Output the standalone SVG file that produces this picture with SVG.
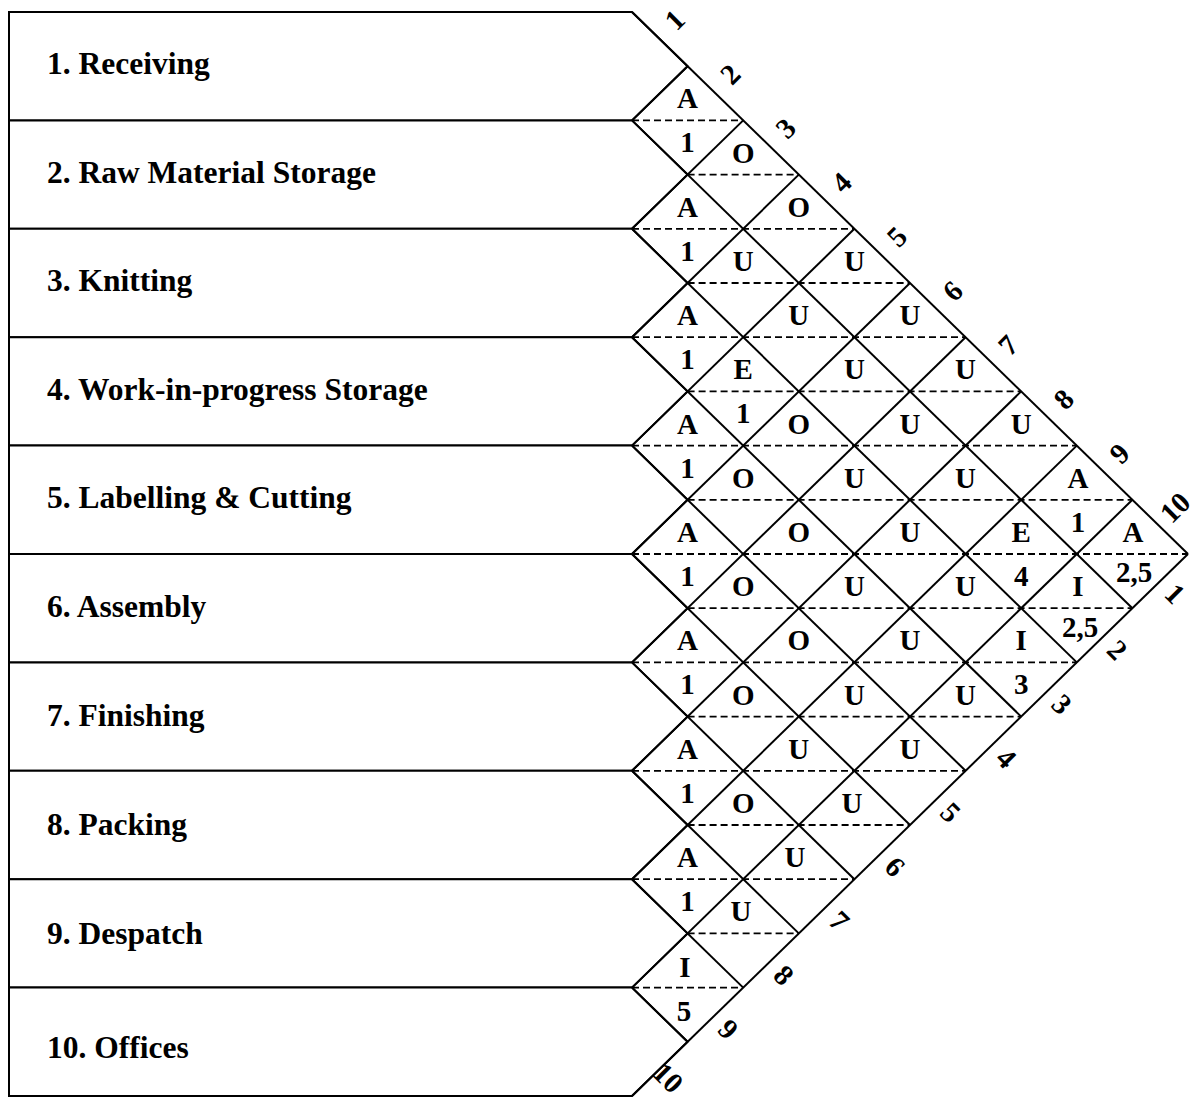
<svg xmlns="http://www.w3.org/2000/svg" width="1197" height="1097" viewBox="0 0 1197 1097">
  <style>
    .box { fill: #fff; stroke: #000; stroke-width: 2; stroke-linejoin: miter; }
    .grid { stroke: #000; stroke-width: 2; fill: none; }
    .dash { stroke: #000; stroke-width: 1.8; stroke-dasharray: 7 4; fill: none; }
    text { font-family: "Liberation Serif", "Times New Roman", serif; font-weight: bold; fill: #000; }
    .dept { font-size: 31.5px; }
    .cell { font-size: 29px; text-anchor: middle; }
    .idx { font-size: 29px; text-anchor: middle; }
  </style>

  <rect width="1197" height="1097" fill="#fff"/>

  <!-- Department boxes: rectangle with a chevron on the right side -->
  <g id="dept-1"><polygon class="box" points="9,12 632,12 687.6,66.2 632,120.4 9,120.4"/><text class="dept" x="47" y="74">1. Receiving</text></g>
  <g id="dept-2"><polygon class="box" points="9,120.4 632,120.4 687.6,174.6 632,228.8 9,228.8"/><text class="dept" x="47" y="183">2. Raw Material Storage</text></g>
  <g id="dept-3"><polygon class="box" points="9,228.8 632,228.8 687.6,283 632,337.2 9,337.2"/><text class="dept" x="47" y="291">3. Knitting</text></g>
  <g id="dept-4"><polygon class="box" points="9,337.2 632,337.2 687.6,391.4 632,445.6 9,445.6"/><text class="dept" x="47" y="400">4. Work-in-progress Storage</text></g>
  <g id="dept-5"><polygon class="box" points="9,445.6 632,445.6 687.6,499.8 632,554 9,554"/><text class="dept" x="47" y="508">5. Labelling &amp; Cutting</text></g>
  <g id="dept-6"><polygon class="box" points="9,554 632,554 687.6,608.2 632,662.4 9,662.4"/><text class="dept" x="47" y="617">6. Assembly</text></g>
  <g id="dept-7"><polygon class="box" points="9,662.4 632,662.4 687.6,716.6 632,770.8 9,770.8"/><text class="dept" x="47" y="726">7. Finishing</text></g>
  <g id="dept-8"><polygon class="box" points="9,770.8 632,770.8 687.6,825 632,879.2 9,879.2"/><text class="dept" x="47" y="835">8. Packing</text></g>
  <g id="dept-9"><polygon class="box" points="9,879.2 632,879.2 687.6,933.4 632,987.6 9,987.6"/><text class="dept" x="47" y="944">9. Despatch</text></g>
  <g id="dept-10"><polygon class="box" points="9,987.6 632,987.6 687.6,1041.8 632,1096 9,1096"/><text class="dept" x="47" y="1058">10. Offices</text></g>

  <!-- Relationship grid: diagonal cell borders and dashed mid-lines -->
  <g id="connectors">
    <g class="grid">
      <line x1="632" y1="12" x2="1188" y2="554"/>
      <line x1="632" y1="120.4" x2="1132.4" y2="608.2"/>
      <line x1="632" y1="228.8" x2="1076.8" y2="662.4"/>
      <line x1="632" y1="337.2" x2="1021.2" y2="716.6"/>
      <line x1="632" y1="445.6" x2="965.6" y2="770.8"/>
      <line x1="632" y1="554" x2="910" y2="825"/>
      <line x1="632" y1="662.4" x2="854.4" y2="879.2"/>
      <line x1="632" y1="770.8" x2="798.8" y2="933.4"/>
      <line x1="632" y1="879.2" x2="743.2" y2="987.6"/>
      <line x1="632" y1="987.6" x2="687.6" y2="1041.8"/>

      <line x1="632" y1="120.4" x2="687.6" y2="66.2"/>
      <line x1="632" y1="228.8" x2="743.2" y2="120.4"/>
      <line x1="632" y1="337.2" x2="798.8" y2="174.6"/>
      <line x1="632" y1="445.6" x2="854.4" y2="228.8"/>
      <line x1="632" y1="554" x2="910" y2="283"/>
      <line x1="632" y1="662.4" x2="965.6" y2="337.2"/>
      <line x1="632" y1="770.8" x2="1021.2" y2="391.4"/>
      <line x1="632" y1="879.2" x2="1076.8" y2="445.6"/>
      <line x1="632" y1="987.6" x2="1132.4" y2="499.8"/>
      <line x1="632" y1="1096" x2="1188" y2="554"/>
    </g>
    <g class="dash">
      <line x1="632" y1="120.4" x2="743.2" y2="120.4"/>
      <line x1="687.6" y1="174.6" x2="798.8" y2="174.6"/>
      <line x1="632" y1="228.8" x2="854.4" y2="228.8"/>
      <line x1="687.6" y1="283" x2="910" y2="283"/>
      <line x1="632" y1="337.2" x2="965.6" y2="337.2"/>
      <line x1="687.6" y1="391.4" x2="1021.2" y2="391.4"/>
      <line x1="632" y1="445.6" x2="1076.8" y2="445.6"/>
      <line x1="687.6" y1="499.8" x2="1132.4" y2="499.8"/>
      <line x1="632" y1="554" x2="1188" y2="554"/>
      <line x1="687.6" y1="608.2" x2="1132.4" y2="608.2"/>
      <line x1="632" y1="662.4" x2="1076.8" y2="662.4"/>
      <line x1="687.6" y1="716.6" x2="1021.2" y2="716.6"/>
      <line x1="632" y1="770.8" x2="965.6" y2="770.8"/>
      <line x1="687.6" y1="825" x2="910" y2="825"/>
      <line x1="632" y1="879.2" x2="854.4" y2="879.2"/>
      <line x1="687.6" y1="933.4" x2="798.8" y2="933.4"/>
      <line x1="632" y1="987.6" x2="743.2" y2="987.6"/>
    </g>
  </g>

  <!-- Closeness ratings (upper half) and reason codes (lower half) -->
  <g id="ratings">
    <g id="r-1-2"><text class="cell" x="687.6" y="108.4">A</text><text class="cell" x="687.6" y="152.4">1</text></g>
    <g id="r-1-3"><text class="cell" x="743.2" y="162.6">O</text></g>
    <g id="r-1-4"><text class="cell" x="798.8" y="216.8">O</text></g>
    <g id="r-1-5"><text class="cell" x="854.4" y="271">U</text></g>
    <g id="r-1-6"><text class="cell" x="910" y="325.2">U</text></g>
    <g id="r-1-7"><text class="cell" x="965.6" y="379.4">U</text></g>
    <g id="r-1-8"><text class="cell" x="1021.2" y="433.6">U</text></g>
    <g id="r-1-9"><text class="cell" x="1078" y="487.8">A</text><text class="cell" x="1078" y="531.8">1</text></g>
    <g id="r-1-10"><text class="cell" x="1133" y="542">A</text><text class="cell" x="1134" y="582">2,5</text></g>

    <g id="r-2-3"><text class="cell" x="687.6" y="216.8">A</text><text class="cell" x="687.6" y="260.8">1</text></g>
    <g id="r-2-4"><text class="cell" x="743.2" y="271">U</text></g>
    <g id="r-2-5"><text class="cell" x="798.8" y="325.2">U</text></g>
    <g id="r-2-6"><text class="cell" x="854.4" y="379.4">U</text></g>
    <g id="r-2-7"><text class="cell" x="910" y="433.6">U</text></g>
    <g id="r-2-8"><text class="cell" x="965.6" y="487.8">U</text></g>
    <g id="r-2-9"><text class="cell" x="1021.2" y="542">E</text><text class="cell" x="1021.2" y="586">4</text></g>
    <g id="r-2-10"><text class="cell" x="1078" y="596.2">I</text><text class="cell" x="1080" y="637">2,5</text></g>

    <g id="r-3-4"><text class="cell" x="687.6" y="325.2">A</text><text class="cell" x="687.6" y="369.2">1</text></g>
    <g id="r-3-5"><text class="cell" x="743.2" y="379.4">E</text><text class="cell" x="743.2" y="423.4">1</text></g>
    <g id="r-3-6"><text class="cell" x="798.8" y="433.6">O</text></g>
    <g id="r-3-7"><text class="cell" x="854.4" y="487.8">U</text></g>
    <g id="r-3-8"><text class="cell" x="910" y="542">U</text></g>
    <g id="r-3-9"><text class="cell" x="965.6" y="596.2">U</text></g>
    <g id="r-3-10"><text class="cell" x="1021.2" y="650.4">I</text><text class="cell" x="1021.2" y="694.4">3</text></g>

    <g id="r-4-5"><text class="cell" x="687.6" y="433.6">A</text><text class="cell" x="687.6" y="477.6">1</text></g>
    <g id="r-4-6"><text class="cell" x="743.2" y="487.8">O</text></g>
    <g id="r-4-7"><text class="cell" x="798.8" y="542">O</text></g>
    <g id="r-4-8"><text class="cell" x="854.4" y="596.2">U</text></g>
    <g id="r-4-9"><text class="cell" x="910" y="650.4">U</text></g>
    <g id="r-4-10"><text class="cell" x="965.6" y="704.6">U</text></g>

    <g id="r-5-6"><text class="cell" x="687.6" y="542">A</text><text class="cell" x="687.6" y="586">1</text></g>
    <g id="r-5-7"><text class="cell" x="743.2" y="596.2">O</text></g>
    <g id="r-5-8"><text class="cell" x="798.8" y="650.4">O</text></g>
    <g id="r-5-9"><text class="cell" x="854.4" y="704.6">U</text></g>
    <g id="r-5-10"><text class="cell" x="910" y="758.8">U</text></g>

    <g id="r-6-7"><text class="cell" x="687.6" y="650.4">A</text><text class="cell" x="687.6" y="694.4">1</text></g>
    <g id="r-6-8"><text class="cell" x="743.2" y="704.6">O</text></g>
    <g id="r-6-9"><text class="cell" x="798.8" y="758.8">U</text></g>
    <g id="r-6-10"><text class="cell" x="852" y="813">U</text></g>

    <g id="r-7-8"><text class="cell" x="687.6" y="758.8">A</text><text class="cell" x="687.6" y="802.8">1</text></g>
    <g id="r-7-9"><text class="cell" x="743.2" y="813">O</text></g>
    <g id="r-7-10"><text class="cell" x="795" y="867.2">U</text></g>

    <g id="r-8-9"><text class="cell" x="687.6" y="867.2">A</text><text class="cell" x="687.6" y="911.2">1</text></g>
    <g id="r-8-10"><text class="cell" x="741" y="921.4">U</text></g>

    <g id="r-9-10"><text class="cell" x="685" y="976.6">I</text><text class="cell" x="684" y="1020.6">5</text></g>
  </g>

  <!-- Department numbers along the upper edge -->
  <g id="index-top">
    <text class="idx" transform="translate(674.8,20.1) rotate(-45)" y="9.5">1</text>
    <text class="idx" transform="translate(730.4,74.3) rotate(-45)" y="9.5">2</text>
    <text class="idx" transform="translate(786,128.5) rotate(-45)" y="9.5">3</text>
    <text class="idx" transform="translate(841.6,182.7) rotate(-45)" y="9.5">4</text>
    <text class="idx" transform="translate(897.2,236.9) rotate(-45)" y="9.5">5</text>
    <text class="idx" transform="translate(952.8,291.1) rotate(-45)" y="9.5">6</text>
    <text class="idx" transform="translate(1008.4,345.3) rotate(-45)" y="9.5">7</text>
    <text class="idx" transform="translate(1064,399.5) rotate(-45)" y="9.5">8</text>
    <text class="idx" transform="translate(1119.6,453.7) rotate(-45)" y="9.5">9</text>
    <text class="idx" transform="translate(1175.2,507.9) rotate(-45)" y="9.5">10</text>
  </g>

  <!-- Department numbers along the lower edge -->
  <g id="index-bottom">
    <text class="idx" transform="translate(1174.8,593.9) rotate(45)" y="9.5">1</text>
    <text class="idx" transform="translate(1117.2,650.1) rotate(45)" y="9.5">2</text>
    <text class="idx" transform="translate(1061.6,704.3) rotate(45)" y="9.5">3</text>
    <text class="idx" transform="translate(1006,758.5) rotate(45)" y="9.5">4</text>
    <text class="idx" transform="translate(950.4,812.7) rotate(45)" y="9.5">5</text>
    <text class="idx" transform="translate(894.8,866.9) rotate(45)" y="9.5">6</text>
    <text class="idx" transform="translate(839.2,921.1) rotate(45)" y="9.5">7</text>
    <text class="idx" transform="translate(783.6,975.3) rotate(45)" y="9.5">8</text>
    <text class="idx" transform="translate(728,1029.5) rotate(45)" y="9.5">9</text>
    <text class="idx" transform="translate(668,1078) rotate(45)" y="9.5">10</text>
  </g>
</svg>
